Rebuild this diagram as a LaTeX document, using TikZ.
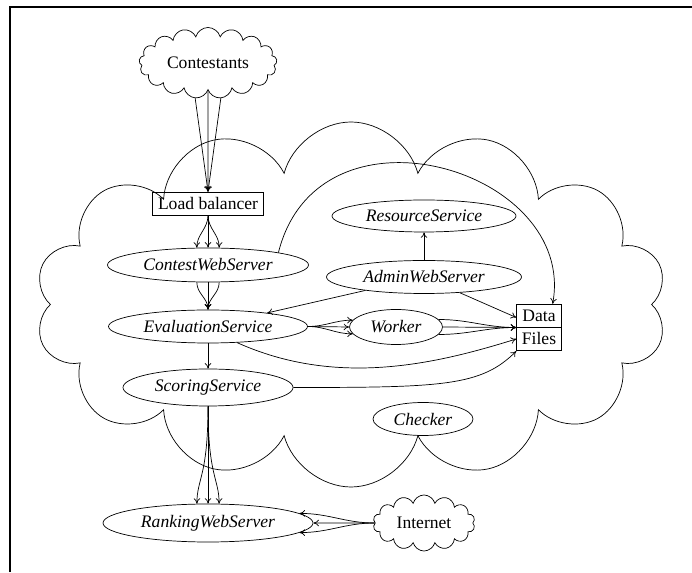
\documentclass[tikz,border=0pt]{standalone}
\usepackage{fontspec}
\setmainfont{Liberation Serif}
\usetikzlibrary{arrows.meta,shapes.symbols,shapes.geometric,shapes.multipart}
\tikzset{
  service/.style={draw, ellipse, inner sep=0pt, font=\itshape},
  puffy/.style={draw, cloud, cloud ignores aspect, inner sep=0pt},
  boxnode/.style={draw, rectangle, inner sep=3pt},
  store/.style={draw, rectangle split, rectangle split parts=2, inner sep=3pt},
  link/.style={-{To[length=1.1mm,width=1.3mm]}, thin},
}

\begin{document}
\begin{tikzpicture}
  \useasboundingbox (0,0) rectangle (13.84,11.44);

  % --- moldura ---------------------------------------------------------------
  \draw[line width=1.6pt] (0.2,0) -- (0.2,11.3) -- (13.84,11.3);

  % --- sistema (nuvem grande) ------------------------------------------------
  \node[puffy, cloud puffs=14, minimum width=12.64cm, minimum height=7.3cm] (system) at (7.02, 5.35) {};

  % --- entrada dos concorrentes ----------------------------------------------
  \node[puffy, cloud puffs=17, cloud puff arc=150, minimum width=2.76cm, minimum height=1.42cm] (contestants) at (4.16, 10.18) {Contestants};
  \node[boxnode] (balancer) at (4.16, 7.37) {Load balancer};

  % --- servicos (coluna da esquerda) -----------------------------------------
  \node[service, minimum width=4.02cm, minimum height=0.68cm] (contestweb) at (4.16, 6.14) {ContestWebServer};
  \node[service, minimum width=3.98cm, minimum height=0.66cm] (evaluation) at (4.16, 4.91) {EvaluationService};
  \node[service, minimum width=3.40cm, minimum height=0.74cm] (scoring) at (4.16, 3.69) {ScoringService};
  \node[service, minimum width=4.20cm, minimum height=0.76cm] (ranking) at (4.16, 0.98) {RankingWebServer};

  % --- servicos (coluna da direita) ------------------------------------------
  \node[service, minimum width=3.68cm, minimum height=0.64cm] (resource) at (8.48, 7.12) {ResourceService};
  \node[service, minimum width=3.90cm, minimum height=0.66cm] (adminweb) at (8.48, 5.90) {AdminWebServer};
  \node[service, minimum width=1.86cm, minimum height=0.70cm] (worker) at (7.92, 4.90) {Worker};
  \node[service, minimum width=2.00cm, minimum height=0.66cm] (checker) at (8.46, 3.06) {Checker};
  \node[store] (storage) at (10.78, 4.89) {Data\nodepart{two}Files};

  % --- publico ---------------------------------------------------------------
  \node[puffy, cloud puffs=14, cloud puff arc=150, minimum width=2.04cm, minimum height=1.12cm] (internet) at (8.48, 0.98) {Internet};

  % --- Ligacoes: entrada ------------------------------------------------------
  \draw[link] (contestants.-110) -- (balancer.north);
  \draw[link] (contestants.south) -- (balancer.north);
  \draw[link] (contestants.-70)  -- (balancer.north);

  \draw[link] (balancer.south) to[out=-90,in=90] (contestweb.123);
  \draw[link] (balancer.south) -- (contestweb.north);
  \draw[link] (balancer.south) to[out=-90,in=90] (contestweb.57);

  \draw[link] (contestweb.-123) to[out=-90,in=90] (evaluation.north);
  \draw[link] (contestweb.south) -- (evaluation.north);
  \draw[link] (contestweb.-57)  to[out=-90,in=90] (evaluation.north);

  \draw[link] (evaluation) -- (scoring);

  % --- Ligacoes: avaliacao e armazenamento -----------------------------------
  \draw[link] (evaluation.east) to[out=0,in=180] (worker.171);
  \draw[link] (evaluation.east) -- (worker.west);
  \draw[link] (evaluation.east) to[out=0,in=180] (worker.189);

  \draw[link] (worker.10)  to[out=0,in=180] (storage.west);
  \draw[link] (worker.east) -- (storage.west);
  \draw[link] (worker.-10) to[out=0,in=180] (storage.west);

  \draw[link] (adminweb) -- (resource);
  \draw[link] (adminweb) -- (evaluation);
  \draw[link] (adminweb) -- (storage);

  \draw[link] (contestweb.10) .. controls +(0.8,3.2) and +(0.5,2.7) .. (storage.60);
  \draw[link] (evaluation.-29) .. controls +(2.0,-0.9) and +(-1.6,-0.5) .. (storage.two west);
  \draw[link] (scoring.east) .. controls +(3.0,0) and +(-0.7,-0.7) .. (storage.south west);

  % --- Ligacoes: classificacao -----------------------------------------------
  \draw[link] (scoring.south) .. controls +(0,-1.4) and +(0,0.5) .. (ranking.120);
  \draw[link] (scoring.south) -- (ranking.north);
  \draw[link] (scoring.south) .. controls +(0,-1.4) and +(0,0.5) .. (ranking.60);

  \draw[link] (internet.west) to[out=180,in=0] (ranking.6);
  \draw[link] (internet.west) -- (ranking.east);
  \draw[link] (internet.west) to[out=180,in=0] (ranking.-6);

\end{tikzpicture}
\end{document}
